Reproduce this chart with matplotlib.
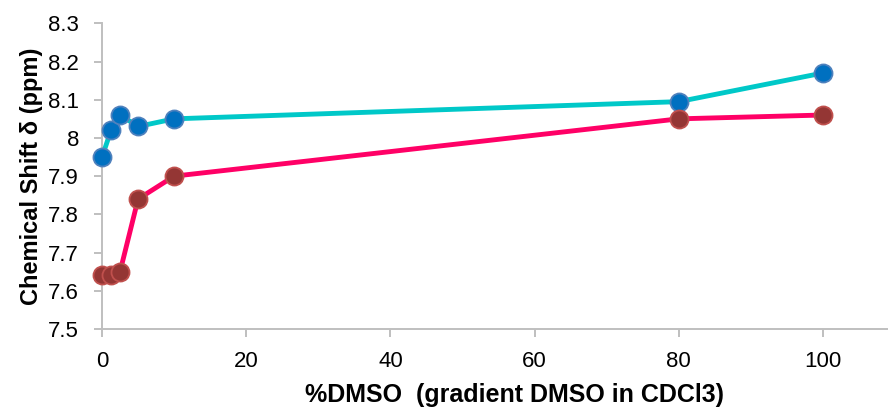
import numpy as np
import matplotlib
matplotlib.use("Agg")
import matplotlib.pyplot as plt
from matplotlib.ticker import FuncFormatter

plt.rcParams['font.family'] = ['Liberation Sans', 'DejaVu Sans']

# % DMSO in CDCl3
dmso = [0, 1.25, 2.5, 5, 10, 80, 100]
# chemical shifts (ppm) of the two protons
shift_a = [7.95, 8.02, 8.06, 8.03, 8.05, 8.095, 8.17]
shift_b = [7.64, 7.64, 7.65, 7.84, 7.90, 8.05, 8.06]
xticks = [0, 20, 40, 60, 80, 100]
yticks = [7.5, 7.6, 7.7, 7.8, 7.9, 8.0, 8.1, 8.2, 8.3]

fig = plt.figure(figsize=(8.88, 4.12), dpi=100)
# plot area runs a little past the right edge (cropped chart)
ax = fig.add_axes([0.1149, 0.2015, 0.928, 0.7419])

ax.plot(dmso, shift_a, color="#00C8C8", lw=3.5, marker="o", ms=13,
        mfc="#0070C0", mec="#4F81BD", mew=1.3, clip_on=False, zorder=3)
ax.plot(dmso, shift_b, color="#FF0066", lw=3.5, marker="o", ms=13,
        mfc="#943634", mec="#C0504D", mew=1.3, clip_on=False, zorder=3)

ax.set_xlim(0, 114.3)
ax.set_ylim(7.5, 8.3)
ax.set_xticks(xticks)
ax.set_yticks(yticks)
ax.yaxis.set_major_formatter(FuncFormatter(lambda v, p: "%g" % round(v, 1)))

for s in ["top", "right"]:
    ax.spines[s].set_visible(False)
for s in ["left", "bottom"]:
    ax.spines[s].set_color("#BFBFBF")
    ax.spines[s].set_linewidth(1.4)
ax.tick_params(axis="both", color="#BFBFBF", width=1.4, length=5.5,
               labelcolor="black", labelsize=16)
ax.tick_params(axis="x", pad=10)
ax.tick_params(axis="y", pad=11)

ax.set_xlabel("%DMSO  (gradient DMSO in CDCl3)", fontsize=18,
              fontweight="bold", labelpad=8)
ax.set_ylabel("Chemical Shift δ (ppm)", fontsize=17,
              fontweight="bold", labelpad=4)

fig.savefig("out.png", dpi=100)
